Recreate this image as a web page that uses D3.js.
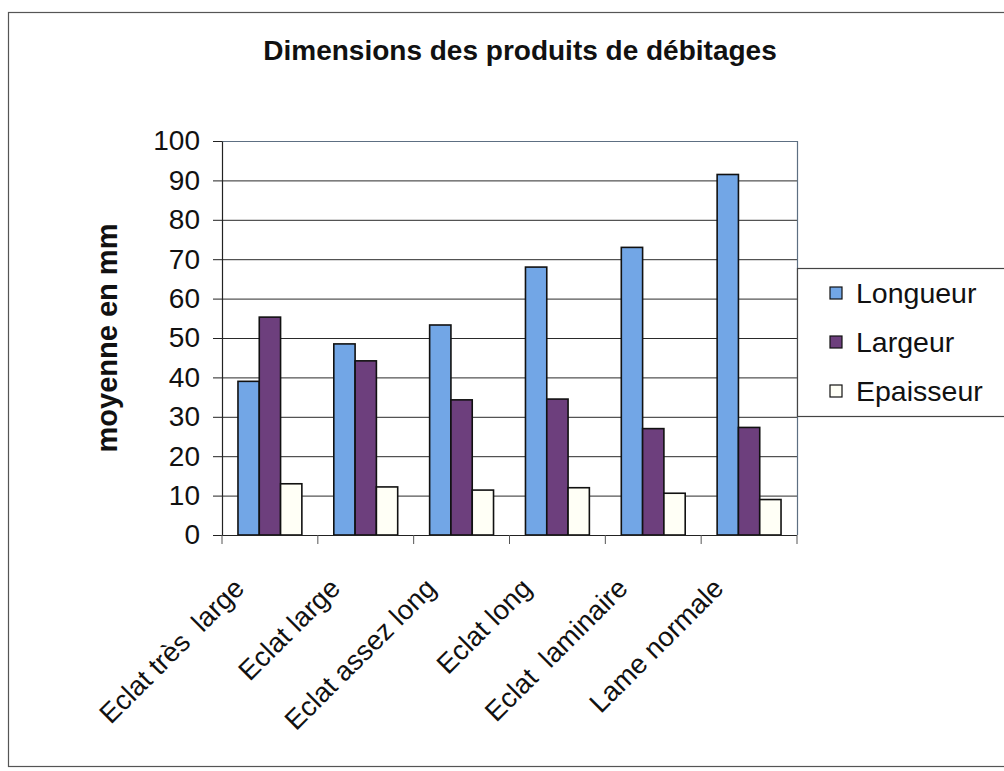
<!DOCTYPE html>
<html>
<head>
<meta charset="utf-8">
<script src="https://cdn.jsdelivr.net/npm/d3@7/dist/d3.min.js"></script>
<style>
  html, body { margin: 0; padding: 0; background: #ffffff; }
  svg { display: block; font-family: "Liberation Sans", Arial, sans-serif; }
  .cat { white-space: pre; }
</style>
</head>
<body>
<svg id="chart" width="1004" height="771"></svg>
<script>
// Mean dimensions (mm) of the knapping products, per category
const categories = ["Eclat très  large", "Eclat large", "Eclat assez long", "Eclat long", "Eclat  laminaire", "Lame normale"];
const seriesNames = ["Longueur", "Largeur", "Epaisseur"];
const longueur  = [39, 48.5, 53.3, 68, 73, 91.5];
const largeur   = [55.3, 44.2, 34.3, 34.5, 27, 27.3];
const epaisseur = [13, 12.2, 11.4, 12, 10.6, 9];
const yTicks = [0, 10, 20, 30, 40, 50, 60, 70, 80, 90, 100];
const seriesColors = ["#72a6e6", "#6d3f7d", "#fffff6"];

const seriesValues = [longueur, largeur, epaisseur];
const rows = categories.map((c, i) => ({
  cat: c,
  values: seriesNames.map((s, k) => ({ series: s, value: seriesValues[k][i] }))
}));

const svg = d3.select("#chart");

// Outer chart frame
svg.append("rect")
  .attr("x", 8.5).attr("y", 12.5)
  .attr("width", 1010).attr("height", 754)
  .attr("fill", "#ffffff")
  .attr("stroke", "#555").attr("stroke-width", 1.2);

const plot = { left: 222, right: 797, top: 141, bottom: 535 };

const x0 = d3.scaleBand()
  .domain(categories)
  .range([plot.left, plot.right])
  .padding(0);

const x1 = d3.scaleBand()
  .domain(seriesNames)
  .range([0, x0.bandwidth()])
  .paddingInner(0)
  .paddingOuter(0.75);

const y = d3.scaleLinear()
  .domain([0, 100])
  .range([plot.bottom, plot.top]);

const color = d3.scaleOrdinal().domain(seriesNames).range(seriesColors);

// Horizontal gridlines
svg.append("g")
  .selectAll("line")
  .data(yTicks.filter(t => t > 0 && t < 100))
  .join("line")
  .attr("x1", plot.left).attr("x2", plot.right)
  .attr("y1", d => y(d) + 0.5).attr("y2", d => y(d) + 0.5)
  .attr("stroke", "#2a2a2a").attr("stroke-width", 1);

// Plot area border (top and right)
svg.append("path")
  .attr("d", `M${plot.left},${plot.top + 0.5}H${plot.right + 0.5}V${plot.bottom}`)
  .attr("fill", "none")
  .attr("stroke", "#5d6f82").attr("stroke-width", 1.2);

// Bars
const groups = svg.append("g")
  .selectAll("g")
  .data(rows)
  .join("g")
  .attr("transform", d => `translate(${x0(d.cat)},0)`);

groups.selectAll("rect")
  .data(d => d.values)
  .join("rect")
  .attr("x", d => x1(d.series))
  .attr("y", d => y(d.value))
  .attr("width", x1.bandwidth())
  .attr("height", d => y(0) - y(d.value))
  .attr("fill", d => color(d.series))
  .attr("stroke", "#111")
  .attr("stroke-width", 1.6);

// Y axis
const yAxis = d3.axisLeft(y)
  .tickValues(yTicks)
  .tickFormat(d3.format("d"))
  .tickSizeInner(9)
  .tickSizeOuter(0)
  .tickPadding(13);

const gy = svg.append("g")
  .attr("transform", `translate(${plot.left},0)`)
  .call(yAxis);
gy.select(".domain").attr("stroke", "#222").attr("stroke-width", 1.2);
gy.selectAll(".tick line").attr("stroke", "#222");
gy.selectAll(".tick text")
  .attr("font-size", 28)
  .attr("fill", "#111")
  .attr("font-family", "Liberation Sans, Arial, sans-serif");

// X axis (ticks at category boundaries)
const gx = svg.append("g")
  .attr("transform", `translate(0,${plot.bottom})`);
gx.append("line")
  .attr("x1", plot.left - 9).attr("x2", plot.right)
  .attr("y1", 0.5).attr("y2", 0.5)
  .attr("stroke", "#222").attr("stroke-width", 1.2);
const boundaries = categories.map(c => x0(c)).concat([x0.range()[1]]);
gx.selectAll(".bt")
  .data(boundaries)
  .join("line")
  .attr("class", "bt")
  .attr("x1", d => d).attr("x2", d => d)
  .attr("y1", 0).attr("y2", 9)
  .attr("stroke", "#555").attr("stroke-width", 1);

// Category labels, rotated
svg.append("g")
  .selectAll("text")
  .data(categories)
  .join("text")
  .attr("class", "cat")
  .attr("transform", d => `translate(${x0(d) + x0.bandwidth() / 2 - 24},590) rotate(-45)`)
  .attr("text-anchor", "end")
  .attr("font-size", 27.5)
  .attr("fill", "#111")
  .text(d => d);

// Y axis title
svg.append("text")
  .attr("transform", `translate(117,338) rotate(-90)`)
  .attr("text-anchor", "middle")
  .attr("font-size", 29)
  .attr("font-weight", "bold")
  .attr("fill", "#111")
  .text("moyenne en mm");

// Chart title
svg.append("text")
  .attr("x", 520).attr("y", 60)
  .attr("text-anchor", "middle")
  .attr("font-size", 28)
  .attr("font-weight", "bold")
  .attr("fill", "#111")
  .text("Dimensions des produits de débitages");

// Legend
const legend = svg.append("g");
legend.append("rect")
  .attr("x", 797.5).attr("y", 268.5)
  .attr("width", 260).attr("height", 148)
  .attr("fill", "#ffffff")
  .attr("stroke", "#444").attr("stroke-width", 1.2);

const items = legend.selectAll("g.item")
  .data(seriesNames)
  .join("g")
  .attr("class", "item")
  .attr("transform", (d, i) => `translate(830,${293 + i * 49})`);
items.append("rect")
  .attr("x", 0).attr("y", -6)
  .attr("width", 12).attr("height", 12)
  .attr("fill", d => color(d))
  .attr("stroke", "#111").attr("stroke-width", 1.2);
items.append("text")
  .attr("x", 26).attr("y", 0)
  .attr("dy", "0.35em")
  .attr("font-size", 28.5)
  .attr("fill", "#111")
  .text(d => d);
</script>
</body>
</html>
